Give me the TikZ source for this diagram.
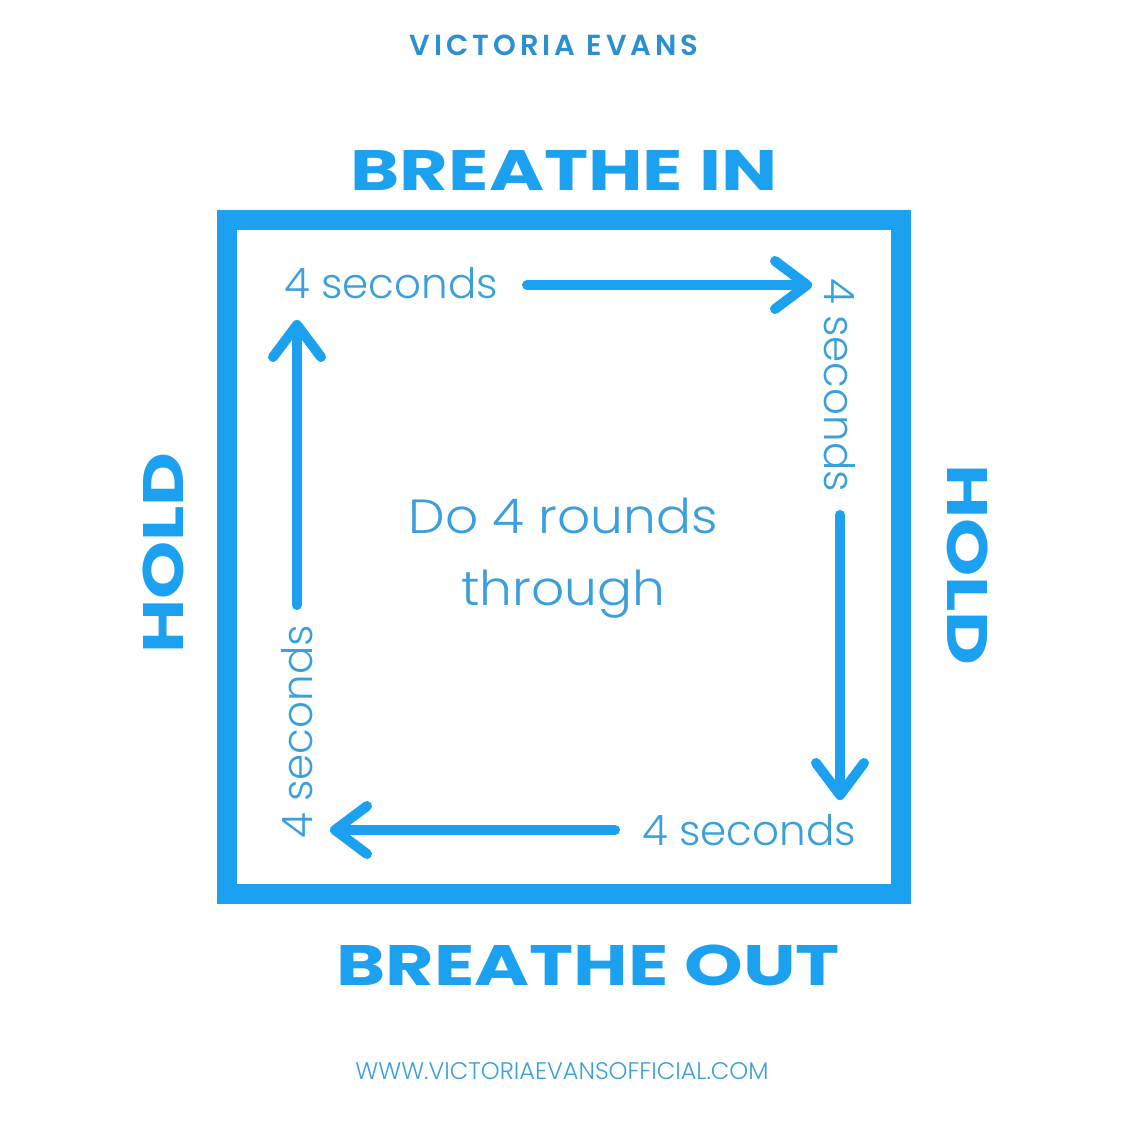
\documentclass[tikz,border=0pt]{standalone}
\usepackage{fontspec}
\setmainfont{Poppins}
\newfontfamily\boldf{Poppins}[UprightFont=* Bold]
\newfontfamily\lightf{Poppins}[UprightFont=* Light]
\newfontfamily\spacedf{Poppins}[UprightFont=* SemiBold,LetterSpace=14]
\usetikzlibrary{arrows.meta}
\definecolor{mainblue}{HTML}{1BA1F0}
\definecolor{textblue}{HTML}{3A9FDC}
\definecolor{titleblue}{HTML}{2A90D2}
\begin{document}
\begin{tikzpicture}[x=1pt,y=-1pt,
  big/.style={text=mainblue,font=\boldf\fontsize{57}{60}\selectfont,inner sep=0},
  secs/.style={text=textblue,font=\lightf\fontsize{42}{46}\selectfont,inner sep=0},
  flow/.style={draw=mainblue,line width=10pt,line cap=round,
    -{Straight Barb[round,length=32pt,width=48pt]}}]
\useasboundingbox[fill=white] (0,0) rectangle (1125,1134);
\node[draw=mainblue,line width=20pt,minimum width=674pt,minimum height=674pt,inner sep=0] (box) at (564,557) {};
\node[text=titleblue,font=\spacedf\fontsize{29}{31}\selectfont,inner sep=0] (brand) at (554,45) {VICTORIA EVANS};
\node[big,xscale=1.31] (in) at (564,170) {BREATHE IN};
\node[big,xscale=1.31] (out) at (588,965) {BREATHE OUT};
\node[big,rotate=90,xscale=1.3] (holdl) at (163,553) {HOLD};
\node[big,rotate=-90,xscale=1.3] (holdr) at (968,565) {HOLD};
\node[secs] (s1) at (391,283) {4 seconds};
\node[secs,rotate=-90] (s2) at (840,385) {4 seconds};
\node[secs] (s3) at (749,830) {4 seconds};
\node[secs,rotate=90] (s4) at (297,732) {4 seconds};
\node[text=textblue,font=\lightf\fontsize{48}{72}\selectfont,align=center,inner sep=0,xscale=1.08] (center) at (563,558) {Do 4 rounds\\through};
\node[text=textblue,font=\lightf\fontsize{24}{27}\selectfont,inner sep=0] (web) at (562,1071) {WWW.VICTORIAEVANSOFFICIAL.COM};
\coordinate (a1s) at (527,285); \coordinate (a1e) at (812,285);
\coordinate (a2s) at (840,515); \coordinate (a2e) at (840,800);
\coordinate (a3s) at (615,830); \coordinate (a3e) at (330,830);
\coordinate (a4s) at (297,605); \coordinate (a4e) at (297,320);
\draw[flow] (a1s) -- (a1e);
\draw[flow] (a2s) -- (a2e);
\draw[flow] (a3s) -- (a3e);
\draw[flow] (a4s) -- (a4e);
\end{tikzpicture}
\end{document}
